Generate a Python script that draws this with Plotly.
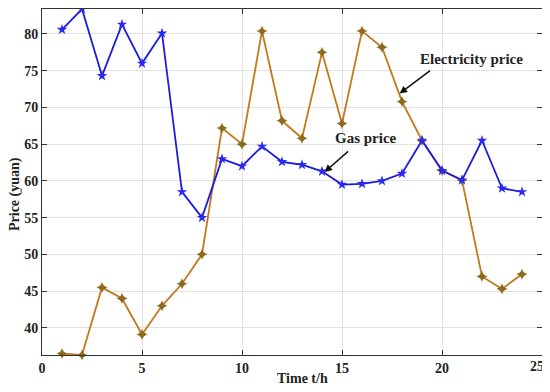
import plotly.graph_objects as go

hours = list(range(1, 25))
gas_price = [80.6, 83.4, 74.3, 81.3, 76.0, 80.1, 58.5, 55.0, 63.0, 62.0, 64.7, 62.6,
             62.2, 61.3, 59.5, 59.6, 60.0, 61.0, 65.5, 61.4, 60.1, 65.5, 59.0, 58.5]
elec_price = [36.5, 36.3, 45.5, 44.0, 39.1, 43.0, 46.0, 50.0, 67.2, 65.0, 80.4, 68.2,
              65.8, 77.5, 67.8, 80.4, 78.2, 70.8, 65.5, 61.4, 60.1, 47.0, 45.3, 47.3]
x_ticks = [0, 5, 10, 15, 20, 25]
x_tick_labels = ["0", "5", "10", "15", "20", ""]
last_x_label = "25"
y_ticks = [40, 45, 50, 55, 60, 65, 70, 75, 80]

FONT = "Liberation Serif"

fig = go.Figure()
fig.add_trace(go.Scatter(
    x=hours, y=elec_price, mode="lines+markers", name="Electricity price",
    line=dict(color="#c07a1c", width=1.8),
    marker=dict(symbol="star-diamond", size=8, color="#8c6a1e"),
    cliponaxis=False, showlegend=False))
fig.add_trace(go.Scatter(
    x=hours, y=gas_price, mode="lines+markers", name="Gas price",
    line=dict(color="#1c1ce0", width=1.8),
    marker=dict(symbol="star", size=8, color="#2a2af0"),
    cliponaxis=False, showlegend=False))

axis_common = dict(
    showgrid=True, gridcolor="#e2e2e2", gridwidth=1,
    showline=True, linecolor="#333333", linewidth=1, mirror="ticks",
    ticks="inside", ticklen=5, tickcolor="#333333",
    tickfont=dict(family=FONT, size=14, color="#222222", weight="bold"),
    zeroline=False,
)

# the page body adds an 8px margin, so the figure is sized 542x384
fig.update_layout(
    width=542, height=384,
    margin=dict(l=34, r=8, t=1, b=37),
    paper_bgcolor="white", plot_bgcolor="white",
    font=dict(family=FONT, color="#222222"),
    xaxis=dict(range=[0, 25], tickvals=x_ticks, ticktext=x_tick_labels,
               ticklabelstandoff=0, **axis_common),
    yaxis=dict(range=[36.3, 83.4], tickvals=y_ticks, **axis_common),
)

# last x tick label, kept inside the page edge
fig.add_annotation(x=1, y=0, xref="paper", yref="paper", xanchor="right", yanchor="top",
                   xshift=4, yshift=-2, text="<b>%s</b>" % last_x_label, showarrow=False,
                   font=dict(family=FONT, size=14, color="#222222"))

fig.add_annotation(x=0.5, y=0, xref="paper", yref="paper", xanchor="center", yanchor="middle",
                   yshift=-23, xshift=10, text="<b>Time t/h</b>", showarrow=False,
                   font=dict(family=FONT, size=14, color="#222222"))
fig.add_annotation(x=0, y=0.5, xref="paper", yref="paper", xanchor="center", yanchor="middle",
                   xshift=-27, yshift=-12, text="<b>Price (yuan)</b>", textangle=-90, showarrow=False,
                   font=dict(family=FONT, size=14, color="#222222"))

fig.add_annotation(x=17.88, y=71.9, xref="x", yref="y", ax=32, ay=-24,
                   text="", showarrow=True, arrowhead=2, arrowsize=1, arrowwidth=1.5,
                   arrowcolor="#111111")
fig.add_annotation(x=21.47, y=76.6, xref="x", yref="y", text="<b>Electricity price</b>",
                   showarrow=False, font=dict(family=FONT, size=15, color="#222222"))
fig.add_annotation(x=14.13, y=61.2, xref="x", yref="y", ax=25, ay=-22,
                   text="", showarrow=True, arrowhead=2, arrowsize=1, arrowwidth=1.5,
                   arrowcolor="#111111")
fig.add_annotation(x=16.19, y=65.9, xref="x", yref="y", text="<b>Gas price</b>",
                   showarrow=False, font=dict(family=FONT, size=15, color="#222222"))

fig.write_html("out.html")
